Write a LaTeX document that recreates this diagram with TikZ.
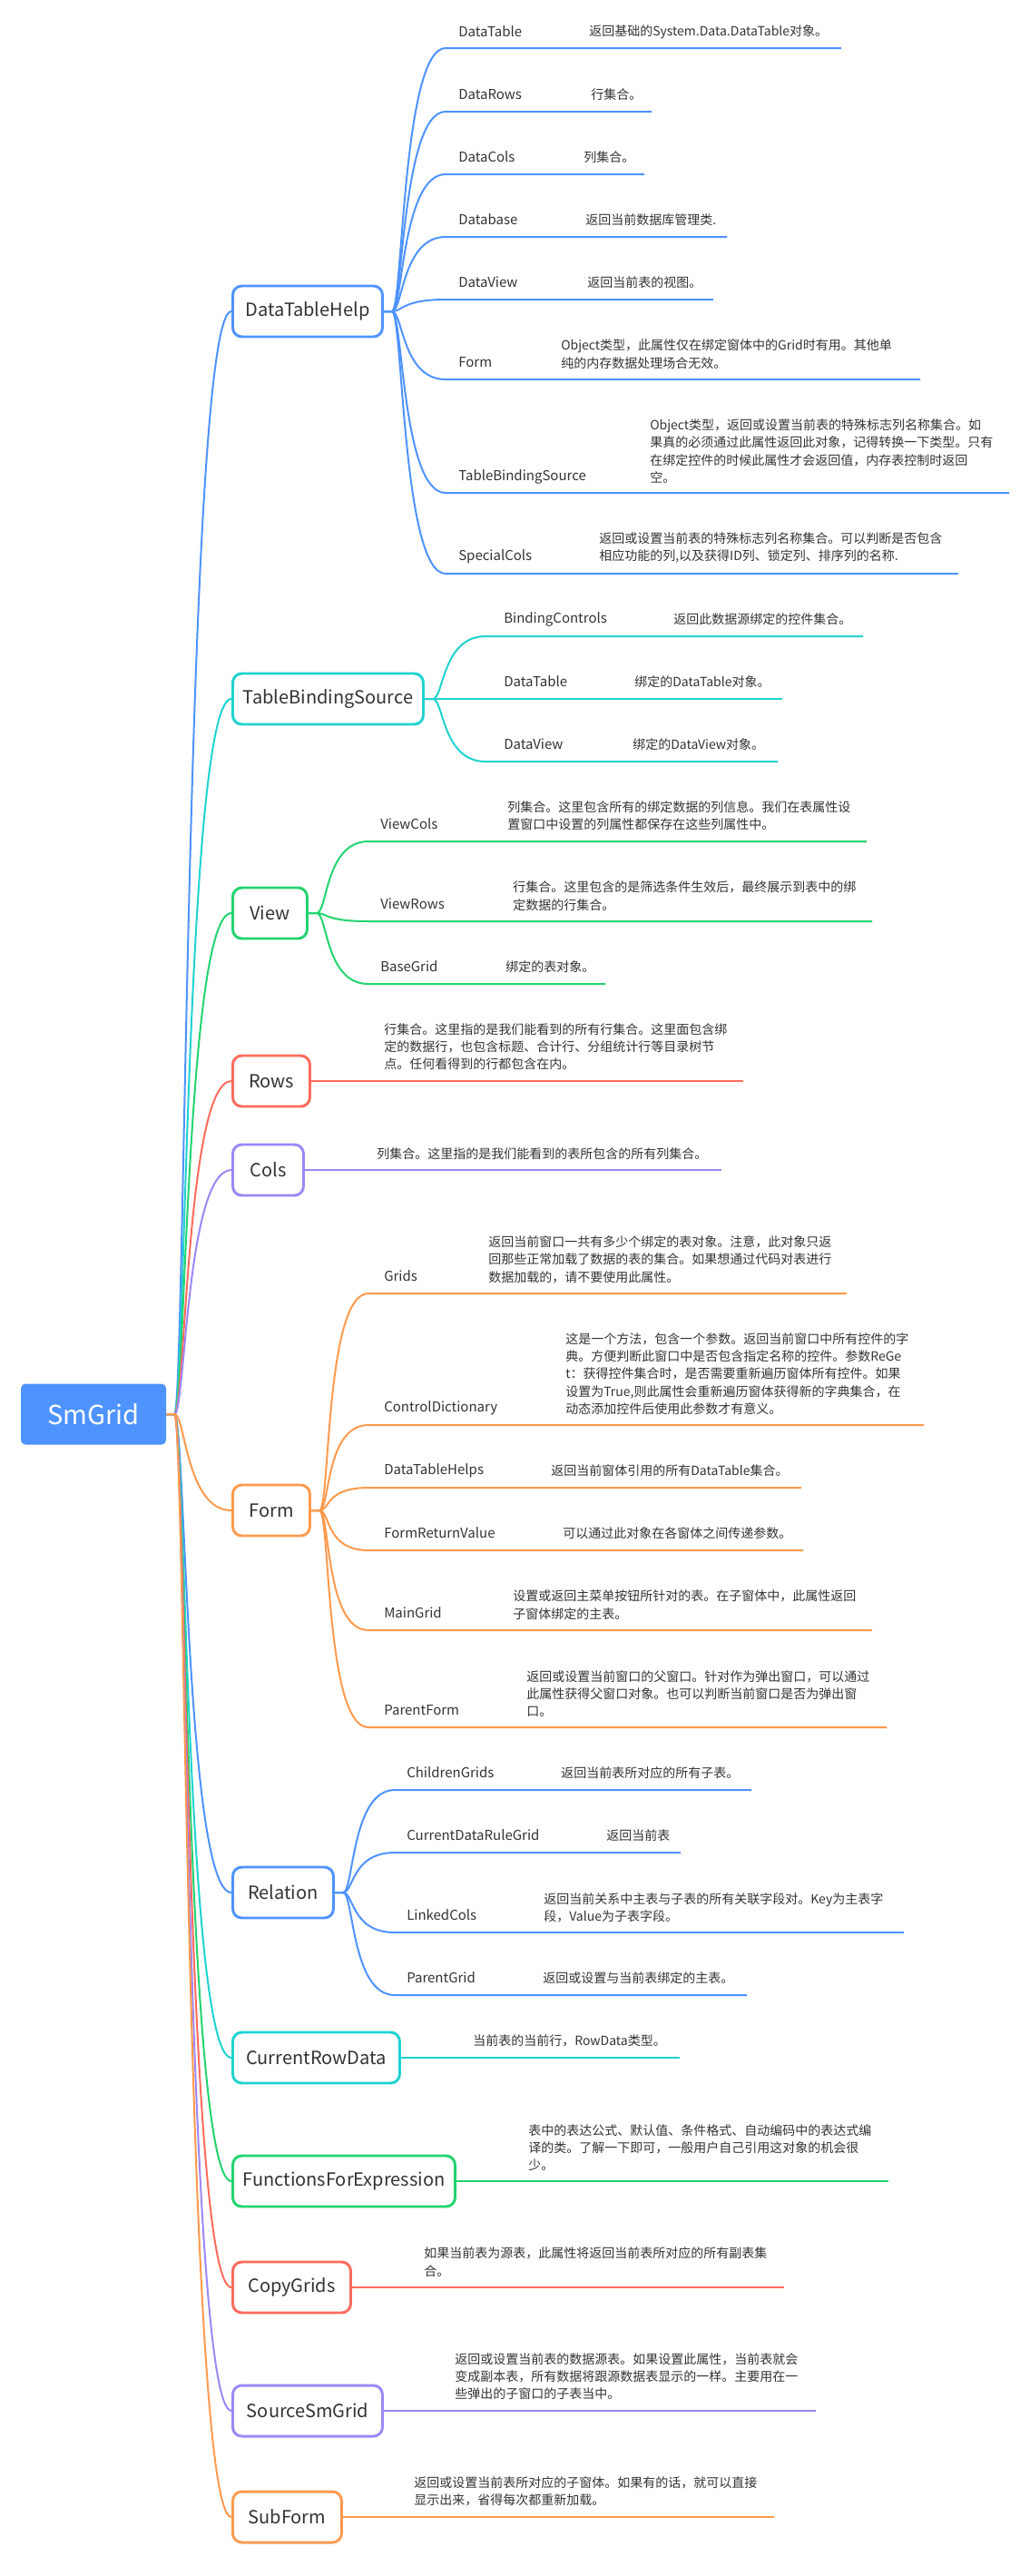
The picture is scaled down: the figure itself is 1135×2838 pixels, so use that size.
\documentclass[tikz,border=0pt]{standalone}
\usepackage{fontspec}
\setmainfont{Noto Sans CJK SC}
\usepackage{tikz}
\definecolor{blu}{RGB}{78,147,255}
\definecolor{cya}{RGB}{30,211,208}
\definecolor{gre}{RGB}{34,212,110}
\definecolor{ros}{RGB}{255,107,92}
\definecolor{pur}{RGB}{156,135,245}
\definecolor{ora}{RGB}{255,154,77}
\definecolor{txt}{RGB}{51,51,51}
\usetikzlibrary{calc,positioning}

\begin{document}
\begin{tikzpicture}[x=0.75pt,y=-0.75pt,
  topic/.style={draw, line width=2.2pt, rounded corners=7.5pt, minimum height=42pt, inner xsep=6pt, fill=white, text=txt, anchor=west, font=\fontsize{15pt}{18pt}\selectfont},
  lab/.style={inner sep=0pt, anchor=west, text=txt, font=\fontsize{11.25pt}{14pt}\selectfont},
  desc/.style={inner sep=0pt, anchor=west, align=left, text=txt, font=\fontsize{10.5pt}{14.5pt}\selectfont},
  link/.style={line width=1.5pt}]
\useasboundingbox (0,0) rectangle (1135,2838);

% root
\node[fill=blu, rounded corners=3.75pt, minimum width=120pt, minimum height=50.25pt, text=white, font=\fontsize{21.75pt}{26pt}\selectfont] (root) at (103,1558) {SmGrid};

% main topics
\node[topic, draw=blu, minimum width=123.75pt] (dth) at (255,343) {DataTableHelp};
\node[topic, draw=cya, minimum width=157.5pt] (tbs) at (255,770) {TableBindingSource};
\node[topic, draw=gre, minimum width=61.5pt] (view) at (255,1006) {View};
\node[topic, draw=ros, minimum width=63.75pt] (rows) at (255,1191) {Rows};
\node[topic, draw=pur, minimum width=58.5pt] (cols) at (255,1289) {Cols};
\node[topic, draw=ora, minimum width=63.75pt] (form) at (255,1664) {Form};
\node[topic, draw=blu, minimum width=83.25pt] (rel) at (255,2085) {Relation};
\node[topic, draw=cya, minimum width=138pt] (crd) at (255,2267) {CurrentRowData};
\node[topic, draw=gre, minimum width=183.75pt] (ffe) at (255,2403) {FunctionsForExpression};
\node[topic, draw=ros, minimum width=97.5pt] (cpg) at (255,2520) {CopyGrids};
\node[topic, draw=pur, minimum width=123.75pt] (ssg) at (255,2656) {SourceSmGrid};
\node[topic, draw=ora, minimum width=90pt] (sub) at (255,2773) {SubForm};

\draw[link,blu] (root.east) -- ++(9,0) .. controls +(12,0) and +(-50,0) .. (dth.west);
\draw[link,cya] (root.east) -- ++(9,0) .. controls +(12,0) and +(-50,0) .. (tbs.west);
\draw[link,gre] (root.east) -- ++(9,0) .. controls +(12,0) and +(-50,0) .. (view.west);
\draw[link,ros] (root.east) -- ++(9,0) .. controls +(12,0) and +(-50,0) .. (rows.west);
\draw[link,pur] (root.east) -- ++(9,0) .. controls +(12,0) and +(-50,0) .. (cols.west);
\draw[link,blu] (root.east) -- ++(9,0) .. controls +(12,0) and +(-50,0) .. (rel.west);
\draw[link,cya] (root.east) -- ++(9,0) .. controls +(12,0) and +(-50,0) .. (crd.west);
\draw[link,gre] (root.east) -- ++(9,0) .. controls +(12,0) and +(-50,0) .. (ffe.west);
\draw[link,ros] (root.east) -- ++(9,0) .. controls +(12,0) and +(-50,0) .. (cpg.west);
\draw[link,pur] (root.east) -- ++(9,0) .. controls +(12,0) and +(-50,0) .. (ssg.west);
\draw[link,ora] (root.east) -- ++(9,0) .. controls +(12,0) and +(-50,0) .. (sub.west);
\draw[link,ora] (root.east) -- ++(9,0) .. controls +(12,0) and +(-50,0) .. (form.west);

% DataTableHelp
\coordinate (dtTable) at (491,53);
\coordinate (dtRows) at (491,123);
\coordinate (dtCols) at (491,192);
\coordinate (dtBase) at (491,261);
\coordinate (dtView) at (491,330);
\coordinate (dtForm) at (491,418);
\coordinate (dtTbs) at (491,543);
\coordinate (dtSpec) at (491,632);
\draw[link,blu] (dth.east) -- ++(9,0) .. controls +(12,0) and +(-48,0) .. (dtTable) -- (927,53);
\draw[link,blu] (dth.east) -- ++(9,0) .. controls +(12,0) and +(-48,0) .. (dtRows) -- (718,123);
\draw[link,blu] (dth.east) -- ++(9,0) .. controls +(12,0) and +(-48,0) .. (dtCols) -- (710,192);
\draw[link,blu] (dth.east) -- ++(9,0) .. controls +(12,0) and +(-48,0) .. (dtBase) -- (801,261);
\draw[link,blu] (dth.east) -- ++(9,0) .. controls +(12,0) and +(-48,0) .. (dtView) -- (786,330);
\draw[link,blu] (dth.east) -- ++(9,0) .. controls +(12,0) and +(-48,0) .. (dtForm) -- (1014,418);
\draw[link,blu] (dth.east) -- ++(9,0) .. controls +(12,0) and +(-48,0) .. (dtTbs) -- (1112,543);
\draw[link,blu] (dth.east) -- ++(9,0) .. controls +(12,0) and +(-48,0) .. (dtSpec) -- (1056,632);
\node[lab] (lDataTable) at (505,35) {DataTable};
\node[desc] (dDataTable) at (649,35) {返回基础的System.Data.DataTable对象。};
\node[lab] (lDataRows) at (505,104) {DataRows};
\node[desc] (dDataRows) at (651,104) {行集合。};
\node[lab] (lDataCols) at (505,173) {DataCols};
\node[desc] (dDataCols) at (643,173) {列集合。};
\node[lab] (lDatabase) at (505,242) {Database};
\node[desc] (dDatabase) at (645,242) {返回当前数据库管理类.};
\node[lab] (lDataView) at (505,311) {DataView};
\node[desc] (dDataView) at (647,311) {返回当前表的视图。};
\node[lab] (lForm) at (505,399) {Form};
\node[desc] (dForm) at (618,390) {Object类型，此属性仅在绑定窗体中的Grid时有用。其他单\\纯的内存数据处理场合无效。};
\node[lab] (lTbs) at (505,525) {TableBindingSource};
\node[desc] (dTbs) at (716,497) {Object类型，返回或设置当前表的特殊标志列名称集合。如\\果真的必须通过此属性返回此对象，记得转换一下类型。只有\\在绑定控件的时候此属性才会返回值，内存表控制时返回\\空。};
\node[lab] (lSpecialCols) at (505,613) {SpecialCols};
\node[desc] (dSpecialCols) at (660,603.5) {返回或设置当前表的特殊标志列名称集合。可以判断是否包含\\相应功能的列,以及获得ID列、锁定列、排序列的名称.};

% TableBindingSource
\coordinate (tbCtrl) at (535,701);
\coordinate (tbTable) at (535,770);
\coordinate (tbView) at (535,839);
\draw[link,cya] (tbs.east) -- ++(9,0) .. controls +(12,0) and +(-48,0) .. (tbCtrl) -- (951,701);
\draw[link,cya] (tbs.east) -- (tbTable) -- (862,770);
\draw[link,cya] (tbs.east) -- ++(9,0) .. controls +(12,0) and +(-48,0) .. (tbView) -- (857,839);
\node[lab] (lCtrl) at (555,682) {BindingControls};
\node[desc] (dCtrl) at (742,682) {返回此数据源绑定的控件集合。};
\node[lab] (lTbTable) at (555,751) {DataTable};
\node[desc] (dTbTable) at (699,751) {绑定的DataTable对象。};
\node[lab] (lTbView) at (555,820) {DataView};
\node[desc] (dTbView) at (697,820) {绑定的DataView对象。};

% View
\coordinate (vwCols) at (406,927);
\coordinate (vwRows) at (406,1015);
\coordinate (vwGrid) at (406,1084);
\draw[link,gre] (view.east) -- ++(9,0) .. controls +(12,0) and +(-48,0) .. (vwCols) -- (955,927);
\draw[link,gre] (view.east) -- ++(9,0) .. controls +(12,0) and +(-48,0) .. (vwRows) -- (961,1015);
\draw[link,gre] (view.east) -- ++(9,0) .. controls +(12,0) and +(-48,0) .. (vwGrid) -- (667,1084);
\node[lab] (lViewCols) at (419,908) {ViewCols};
\node[desc] (dViewCols) at (559,898.5) {列集合。这里包含所有的绑定数据的列信息。我们在表属性设\\置窗口中设置的列属性都保存在这些列属性中。};
\node[lab] (lViewRows) at (419,996) {ViewRows};
\node[desc] (dViewRows) at (565,987) {行集合。这里包含的是筛选条件生效后，最终展示到表中的绑\\定数据的行集合。};
\node[lab] (lBaseGrid) at (419,1065) {BaseGrid};
\node[desc] (dBaseGrid) at (557,1065) {绑定的表对象。};

% Rows, Cols
\draw[link,ros] (rows.east) -- (819,1191);
\node[desc] (dRows) at (423,1153) {行集合。这里指的是我们能看到的所有行集合。这里面包含绑\\定的数据行，也包含标题、合计行、分组统计行等目录树节\\点。任何看得到的行都包含在内。};
\draw[link,pur] (cols.east) -- (795,1289);
\node[desc] (dCols) at (415,1271) {列集合。这里指的是我们能看到的表所包含的所有列集合。};

% Form
\coordinate (fmGrids) at (406,1425);
\coordinate (fmDict) at (406,1570);
\coordinate (fmHelps) at (406,1639);
\coordinate (fmRet) at (406,1708);
\coordinate (fmMain) at (406,1796);
\coordinate (fmParent) at (406,1903);
\draw[link,ora] (form.east) -- ++(9,0) .. controls +(12,0) and +(-48,0) .. (fmGrids) -- (933,1425);
\draw[link,ora] (form.east) -- ++(9,0) .. controls +(12,0) and +(-48,0) .. (fmDict) -- (1018,1570);
\draw[link,ora] (form.east) -- ++(9,0) .. controls +(12,0) and +(-48,0) .. (fmHelps) -- (883,1639);
\draw[link,ora] (form.east) -- ++(9,0) .. controls +(12,0) and +(-48,0) .. (fmRet) -- (885,1708);
\draw[link,ora] (form.east) -- ++(9,0) .. controls +(12,0) and +(-48,0) .. (fmMain) -- (961,1796);
\draw[link,ora] (form.east) -- ++(9,0) .. controls +(12,0) and +(-48,0) .. (fmParent) -- (977,1903);
\node[lab] (lGrids) at (423,1406) {Grids};
\node[desc] (dGrids) at (538,1387.5) {返回当前窗口一共有多少个绑定的表对象。注意，此对象只返\\回那些正常加载了数据的表的集合。如果想通过代码对表进行\\数据加载的，请不要使用此属性。};
\node[lab] (lDict) at (423,1551) {ControlDictionary};
\node[desc] (dDict) at (623,1513.5) {这是一个方法，包含一个参数。返回当前窗口中所有控件的字\\典。方便判断此窗口中是否包含指定名称的控件。参数ReGe\\t：获得控件集合时，是否需要重新遍历窗体所有控件。如果\\设置为True,则此属性会重新遍历窗体获得新的字典集合，在\\动态添加控件后使用此参数才有意义。};
\node[lab] (lHelps) at (423,1620) {DataTableHelps};
\node[desc] (dHelps) at (607,1620) {返回当前窗体引用的所有DataTable集合。};
\node[lab] (lRet) at (423,1689) {FormReturnValue};
\node[desc] (dRet) at (620,1689) {可以通过此对象在各窗体之间传递参数。};
\node[lab] (lMain) at (423,1777) {MainGrid};
\node[desc] (dMain) at (565,1768) {设置或返回主菜单按钮所针对的表。在子窗体中，此属性返回\\子窗体绑定的主表。};
\node[lab] (lParent) at (423,1884) {ParentForm};
\node[desc] (dParent) at (580,1866) {返回或设置当前窗口的父窗口。针对作为弹出窗口，可以通过\\此属性获得父窗口对象。也可以判断当前窗口是否为弹出窗\\口。};

% Relation
\coordinate (rlChild) at (435,1972);
\coordinate (rlRule) at (435,2041);
\coordinate (rlLinked) at (435,2129);
\coordinate (rlParent) at (435,2198);
\draw[link,blu] (rel.east) -- ++(9,0) .. controls +(12,0) and +(-48,0) .. (rlChild) -- (828,1972);
\draw[link,blu] (rel.east) -- ++(9,0) .. controls +(12,0) and +(-48,0) .. (rlRule) -- (750,2041);
\draw[link,blu] (rel.east) -- ++(9,0) .. controls +(12,0) and +(-48,0) .. (rlLinked) -- (996,2129);
\draw[link,blu] (rel.east) -- ++(9,0) .. controls +(12,0) and +(-48,0) .. (rlParent) -- (823,2198);
\node[lab] (lChild) at (448,1953) {ChildrenGrids};
\node[desc] (dChild) at (618,1953) {返回当前表所对应的所有子表。};
\node[lab] (lRule) at (448,2022) {CurrentDataRuleGrid};
\node[desc] (dRule) at (668,2022) {返回当前表};
\node[lab] (lLinked) at (448,2110) {LinkedCols};
\node[desc] (dLinked) at (599,2101.5) {返回当前关系中主表与子表的所有关联字段对。Key为主表字\\段，Value为子表字段。};
\node[lab] (lPGrid) at (448,2179) {ParentGrid};
\node[desc] (dPGrid) at (598,2179) {返回或设置与当前表绑定的主表。};

% single topics
\draw[link,cya] (crd.east) -- (749,2267);
\node[desc] (dCrd) at (521,2248) {当前表的当前行，RowData类型。};
\draw[link,gre] (ffe.east) -- (979,2403);
\node[desc] (dFfe) at (582,2366) {表中的表达公式、默认值、条件格式、自动编码中的表达式编\\译的类。了解一下即可，一般用户自己引用这对象的机会很\\少。};
\draw[link,ros] (cpg.east) -- (864,2520);
\node[desc] (dCpg) at (467,2492) {如果当前表为源表，此属性将返回当前表所对应的所有副表集\\合。};
\draw[link,pur] (ssg.east) -- (899,2656);
\node[desc] (dSsg) at (501,2618) {返回或设置当前表的数据源表。如果设置此属性，当前表就会\\变成副本表，所有数据将跟源数据表显示的一样。主要用在一\\些弹出的子窗口的子表当中。};
\draw[link,ora] (sub.east) -- (853,2773);
\node[desc] (dSub) at (456,2745) {返回或设置当前表所对应的子窗体。如果有的话，就可以直接\\显示出来，省得每次都重新加载。};
\end{tikzpicture}
\end{document}
